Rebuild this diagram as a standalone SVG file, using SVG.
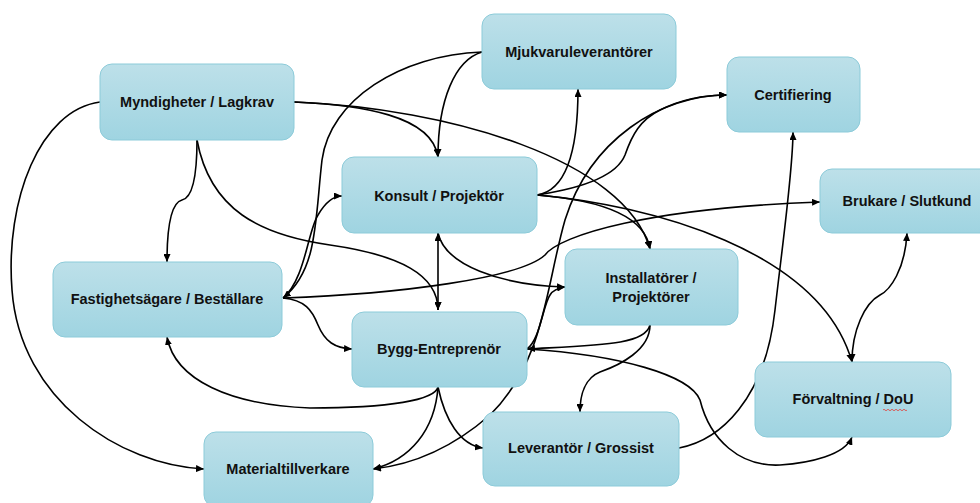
<svg xmlns="http://www.w3.org/2000/svg" width="980" height="503" viewBox="0 0 980 503">
  <defs>
    <linearGradient id="boxFill" x1="0" y1="0" x2="0" y2="1">
      <stop offset="0" stop-color="#bde0e9"/>
      <stop offset="1" stop-color="#9fd4e1"/>
    </linearGradient>
    <marker id="arrow" viewBox="0 0 8 7" refX="8" refY="3.5" markerWidth="8" markerHeight="7" markerUnits="userSpaceOnUse" orient="auto-start-reverse">
      <path d="M0,0 L8,3.5 L0,7 z" fill="#000"/>
    </marker>
    <style>
      .box { fill: url(#boxFill); stroke: #8ccbd9; stroke-width: 1; }
      .label { font-family: "Liberation Sans", Arial, sans-serif; font-size: 14.5px; font-weight: bold; fill: #111; text-anchor: middle; }
      .conn { fill: none; stroke: #000; stroke-width: 1.6; }
      .end { marker-end: url(#arrow); }
      .both { marker-start: url(#arrow); marker-end: url(#arrow); }
    </style>
  </defs>

  <rect width="980" height="503" fill="#fff"/>

  <!-- connectors -->
  <g id="connectors">
    <!-- Myndigheter / Lagkrav -->
    <path class="conn end" d="M100,102 C40,110 5,200 12,290 C20,400 120,465 204,469"/>
    <path class="conn end" d="M197,140 C197,180 192,198 182,200 C170,203 167,230 167,262"/>
    <path class="conn end" d="M197,140 C210,210 260,235 330,245 C400,255 438,275 438,310"/>
    <path class="conn end" d="M294,102 C360,105 432,115 438,157"/>
    <path class="conn end" d="M294,102 C450,108 625,160 650,249"/>

    <!-- Mjukvaruleverantörer -->
    <path class="conn end" d="M482,52 C455,60 438,100 438,157"/>
    <path class="conn end" d="M482,52 C400,55 330,100 322,160 C315,220 318,270 283,298"/>

    <!-- Fastighetsägare / Beställare -->
    <path class="conn end" d="M283,298 C305,280 308,230 318,215 C325,203 332,196 342,196"/>
    <path class="conn end" d="M283,298 C400,294 520,278 545,255 C560,235 650,208 820,202"/>
    <path class="conn end" d="M283,298 C305,300 312,310 318,325 C325,342 335,348 352,349"/>

    <!-- Konsult / Projektör -->
    <path class="conn both" d="M438,233 L438,310"/>
    <path class="conn end" d="M438,233 C445,265 500,285 565,287"/>
    <path class="conn end" d="M537,195 C570,190 578,140 578,89"/>
    <path class="conn end" d="M537,195 C570,190 615,180 625,155 C632,135 640,120 660,110 C680,100 705,95 727,95"/>
    <path class="conn end" d="M537,195 C600,200 645,215 650,249"/>
    <path class="conn end" d="M537,195 C650,205 820,250 852,362"/>

    <!-- Certifiering / Materialtillverkare -->
    <path class="conn both" d="M727,95 C660,95 590,140 565,220 C545,290 545,360 490,415 C450,450 410,465 373,469"/>

    <!-- Bygg-Entreprenör -->
    <path class="conn end" d="M527,349 C540,340 543,305 550,295 C553,290 558,288 565,287"/>
    <path class="conn end" d="M527,349 C620,355 690,375 700,400 C710,440 740,467 780,465 C810,463 845,455 852,437"/>
    <path class="conn end" d="M438,387 C445,420 460,445 483,448"/>
    <path class="conn end" d="M438,387 C435,430 410,460 373,469"/>
    <path class="conn end" d="M438,387 C435,400 390,408 310,408 C230,405 175,380 167,337"/>

    <!-- Installatörer / Projektörer -->
    <path class="conn end" d="M650,325 C645,345 600,345 527,349"/>
    <path class="conn end" d="M650,325 C650,350 620,365 600,372 C585,378 580,395 580,412"/>

    <!-- Brukare / Förvaltning -->
    <path class="conn both" d="M907,233 C905,270 890,290 880,295 C865,303 852,330 852,362"/>

    <!-- Leverantör / Grossist -->
    <path class="conn end" d="M679,448 C720,440 765,400 775,310 C783,240 793,170 793,132"/>
  </g>

  <!-- nodes -->
  <g id="myndigheter">
    <rect class="box" x="100" y="64" width="194" height="76" rx="12"/>
    <text class="label" x="197" y="107">Myndigheter / Lagkrav</text>
  </g>
  <g id="mjukvaruleverantorer">
    <rect class="box" x="482" y="14" width="194" height="75" rx="12"/>
    <text class="label" x="579" y="57">Mjukvaruleverantörer</text>
  </g>
  <g id="certifiering">
    <rect class="box" x="727" y="57" width="133" height="75" rx="12"/>
    <text class="label" x="793" y="100">Certifiering</text>
  </g>
  <g id="konsult">
    <rect class="box" x="342" y="157" width="195" height="76" rx="12"/>
    <text class="label" x="439" y="201">Konsult / Projektör</text>
  </g>
  <g id="brukare">
    <rect class="box" x="820" y="169" width="174" height="64" rx="12"/>
    <text class="label" x="907" y="206">Brukare / Slutkund</text>
  </g>
  <g id="fastighetsagare">
    <rect class="box" x="53" y="262" width="229" height="75" rx="12"/>
    <text class="label" x="167" y="304">Fastighetsägare / Beställare</text>
  </g>
  <g id="installatorer">
    <rect class="box" x="565" y="249" width="173" height="76" rx="12"/>
    <text class="label" x="651" y="283">Installatörer /</text>
    <text class="label" x="651" y="302">Projektörer</text>
  </g>
  <g id="bygg">
    <rect class="box" x="352" y="312" width="175" height="75" rx="12"/>
    <text class="label" x="439" y="354">Bygg-Entreprenör</text>
  </g>
  <g id="forvaltning">
    <rect class="box" x="755" y="362" width="196" height="75" rx="12"/>
    <text class="label" x="853" y="404">Förvaltning / DoU</text>
    <path d="M883,410 q1,-1.5 2,0 t2,0 t2,0 t2,0 t2,0 t2,0 t2,0 t2,0 t2,0 t2,0 t2,0 t2,0" fill="none" stroke="#e0403a" stroke-width="0.8"/>
  </g>
  <g id="materialtillverkare">
    <rect class="box" x="204" y="432" width="169" height="75" rx="12"/>
    <text class="label" x="288" y="474">Materialtillverkare</text>
  </g>
  <g id="leverantor">
    <rect class="box" x="483" y="412" width="196" height="74" rx="12"/>
    <text class="label" x="581" y="453">Leverantör / Grossist</text>
  </g>
</svg>
